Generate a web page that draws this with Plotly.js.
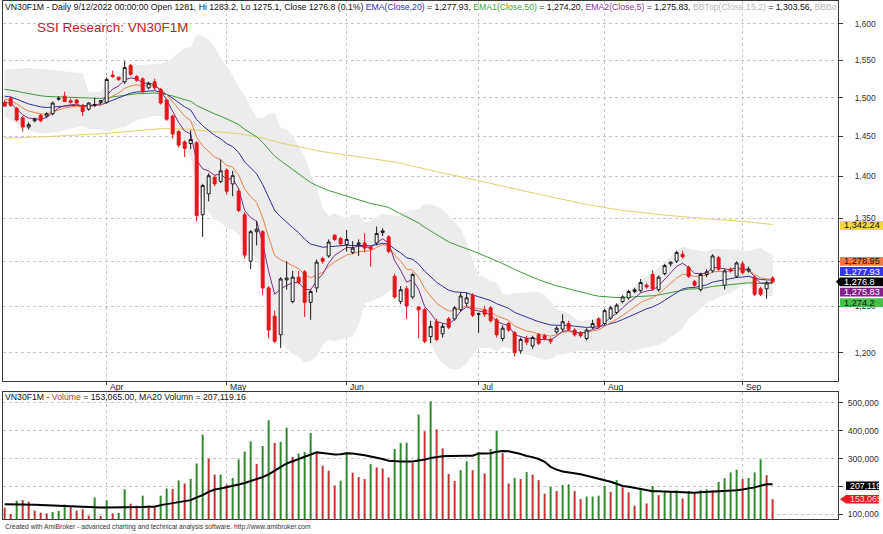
<!DOCTYPE html>
<html><head><meta charset="utf-8">
<script src="https://cdn.plot.ly/plotly-3.0.1.min.js"></script>
<style>html,body{margin:0;padding:0;background:#fff;}#chart{width:883px;height:534px;}</style>
</head><body><div id="chart"></div>
<script>
// ---------------- DATA ----------------
const openP = [1494,1499,1486,1474,1462,1470,1477,1476,1479,1498,
1502,1496,1497,1490,1485,1490,1494,1494,1530,1527,
1521,1543,1528,1525,1513,1521,1511,1497,1476,1456,
1443,1441,1442,1354,1379,1399,1394,1408,1391,1382,
1354,1300,1334,1334,1270,1239,1219,1279,1255,1282,
1288,1254,1270,1303,1306,1330,1326,1319,1310,1319,
1321,1316,1321,1333,1328,1283,1255,1269,1260,1249,
1246,1217,1233,1220,1236,1236,1246,1253,1262,1241,
1246,1248,1235,1215,1231,1221,1202,1215,1207,1219,
1218,1214,1222,1225,1231,1224,1221,1215,1227,1236,
1231,1237,1243,1255,1259,1266,1267,1273,1285,1268,
1286,1297,1300,1308,1293,1277,1268,1285,1289,1304,
1273,1291,1283,1297,1289,1282,1269,1269,1281];
const highP = [1497,1502,1488,1476,1468,1474,1479,1481,1495,1502,
1508,1499,1498,1492,1494,1500,1497,1527,1536,1528,
1549,1545,1530,1527,1521,1525,1513,1499,1478,1458,
1445,1458,1444,1391,1404,1402,1421,1410,1407,1386,
1357,1336,1347,1336,1272,1245,1282,1300,1289,1289,
1290,1268,1302,1305,1325,1331,1328,1336,1323,1325,
1332,1318,1340,1338,1330,1286,1272,1272,1287,1250,
1248,1234,1236,1231,1238,1250,1265,1265,1264,1243,
1250,1250,1237,1229,1233,1223,1216,1218,1218,1221,
1220,1216,1228,1241,1234,1226,1223,1226,1235,1238,
1247,1250,1253,1262,1268,1270,1280,1275,1290,1284,
1297,1299.5,1312,1312,1295,1279,1287,1291,1308,1306,
1291,1293,1300,1300,1294,1284,1271,1278,1283.2];
const lowP = [1488,1488,1469,1456,1459,1468,1468,1474,1477,1496,
1494,1492,1491,1476,1483,1488,1491,1492,1526,1522,
1518,1529,1521,1506,1511,1510,1491,1470,1447,1436,
1424,1434,1346,1328,1370,1388,1392,1378,1376,1357,
1303,1291,1318,1262,1215,1210,1205,1268,1253,1274,
1238,1235,1265,1297,1304,1323,1317,1311,1308,1306,
1310,1294,1318,1329,1309,1258,1252,1236,1258,1215,
1210,1210,1212,1216,1225,1234,1244,1250,1238,1221,
1238,1232,1216,1212,1222,1196,1199,1208,1204,1208,
1213,1209,1220,1222,1223,1217,1216,1213,1225,1226,
1229,1235,1241,1253,1257,1264,1265,1269,1267,1266,
1284,1294,1298,1303,1281,1271,1266,1282,1287,1289,
1268,1287,1281,1285,1287,1261,1261,1258,1275.1];
const closeP = [1489,1490,1471,1462,1465,1472,1470,1479,1493,1499,
1495,1494,1493,1482,1493,1491,1496,1524,1528,1524,
1540,1531,1523,1508,1519,1513,1493,1472,1453,1439,
1435,1446,1353,1389,1401,1391,1407,1382,1401,1359,
1307,1334,1337,1270,1224,1212,1280,1281,1282,1276,
1254,1266,1299,1300,1322,1325,1320,1325,1315,1321,
1315,1314,1332,1335,1311,1260,1268,1250,1285,1246,
1212,1228,1214,1228,1227,1248,1261,1259,1240,1241.5,
1241,1234,1219,1226,1224,1200,1214,1211,1216,1210,
1215,1212,1226,1233,1225,1219,1218,1224,1231,1228,
1245,1248,1251,1260,1266,1268,1276,1271,1269,1282,
1295,1299,1310,1305,1283,1273,1285,1288,1306,1291,
1289,1289,1298,1287,1291,1263,1263,1275.5,1276.8];
const volume = [123000,100000,148000,150000,144000,112000,105000,102000,107000,111000,
134000,125000,112000,117000,94000,160000,93000,150000,102000,104000,
189000,137000,130000,166000,131000,123000,166000,192000,190000,221000,
210000,227000,282000,386000,300000,242000,242000,206000,230000,296000,
325000,362000,280000,345000,438000,356000,360000,411000,306000,318000,
323000,392000,320000,274000,256000,203000,220000,322000,249000,233000,
226000,280000,268000,264000,232000,334000,356000,357000,284000,458000,
398000,506000,405000,337000,244000,219000,258000,290000,258000,323000,
246000,334000,399000,320000,210000,230000,226000,251000,242000,222000,
173000,198000,183000,204000,207000,183000,154000,163000,163000,166000,
201000,180000,222000,196000,178000,130000,186000,138000,201000,168000,
180000,183000,186000,156000,183000,174000,186000,189000,186000,216000,
229000,250000,260000,226000,230000,250000,297000,240000,153065];
// 1 = green volume bar, 0 = red volume bar
const volumeUp = [0,0,1,0,0,0,0,0,1,1, 1,0,0,0,0,1,0,1,0,1,
1,0,0,1,0,0,1,1,0,1, 0,1,1,1,0,0,1,0,1,1,
1,1,0,1,1,0,1,1,0,1, 1,1,0,0,0,0,1,1,0,0,
0,1,0,0,0,1,1,1,0,1, 0,1,0,0,0,0,1,1,0,1,
0,1,1,0,0,1,0,1,0,0, 0,1,0,1,1,0,0,1,1,1,
1,0,1,0,0,0,1,0,1,0, 1,1,1,0,1,0,1,1,0,1,
1,1,1,0,1,1,1,0,0];
const ma20Volume = [135000,135000,134000,134000,133000,133000,132000,131000,131000,130000,
129000,128000,126000,124000,123000,123000,123000,123000,123000,123000,
123000,124000,125000,125000,126000,126000,132000,136000,139000,142000,
146000,150000,160000,168000,180000,188000,192000,196000,201000,206000,
212000,219000,225000,233000,243000,256000,272000,282000,290000,298000,
304000,313000,322000,320000,318000,314000,315000,319000,318000,316000,
312000,307000,303000,298000,292000,290000,289000,289000,289000,293000,
296000,302000,306000,308000,309000,310000,310000,310000,310000,318000,
318000,319000,324000,327000,326000,322000,316000,309000,305000,298000,
288000,270000,260000,253000,250000,246000,243000,238000,233000,226000,
222000,216000,209000,201000,198000,194000,190000,184000,182000,182000,
181000,181000,179000,178000,177000,177000,178000,179000,180000,181000,
182000,184000,186000,188000,191000,196000,202000,207000,207119.16];
// Bollinger band values for the first 14 bars (no 15-bar window yet)
const bbTopEarly = [1537.6,1538.1,1538.5,1538.9,1539.4,1538.9,1538.1,1536.8,1535.9,1535.0,1534.1,1533.2,1532.8,1532.3];
const bbBotEarly = [1474.4,1471.0,1465.8,1461.6,1458.1,1455.2,1453.9,1453.9,1454.8,1456.0,1458.1,1459.8,1461.6,1463.3];
// EMA values at the first visible bar
const ema5Start = 1494, ema10Start = 1498, ema20Start = 1502, ema50Start = 1511, ema200Start = 1448;
// Last values shown in the right-hand labels / header
const lastEMA200 = 1342.24, lastEMA10 = 1278.95, lastEMA20 = 1277.93, lastEMA5 = 1275.83, lastEMA50 = 1274.2, lastBBTop = 1303.56;
const prevClose = 1275.5;
const monthTickIndex = [17,37,57,79,100,123];
const monthTickLabel = ['Apr','May','Jun','Jul','Aug','Sep'];
const priceTicks = [1200,1250,1300,1350,1400,1450,1500,1550,1600];
const priceTickText = ['1,200','1,250','','1,350','1,400','1,450','1,500','1,550','1,600'];
const volTicks = [100000,200000,300000,400000,500000];
const volTickText = ['100,000','','300,000','400,000','500,000'];

// ---------------- derived ----------------
const N = closeP.length;
const idx = closeP.map((_, i) => i);
function ema(src, period, seed) {
  const a = 2 / (period + 1); const out = [seed];
  for (let i = 1; i < src.length; i++) out.push(out[i-1] + a * (src[i] - out[i-1]));
  return out;
}
function bollinger(src, period, k) {
  const top = [], bot = [];
  for (let i = 0; i < src.length; i++) {
    if (i < period - 1) { top.push(bbTopEarly[i]); bot.push(bbBotEarly[i]); continue; }
    const w = src.slice(i - period + 1, i + 1);
    const m = w.reduce((s, v) => s + v, 0) / period;
    const sd = Math.sqrt(w.reduce((s, v) => s + (v - m) * (v - m), 0) / period);
    top.push(m + k * sd); bot.push(m - k * sd);
  }
  return {top, bot};
}
const e5 = ema(closeP, 5, ema5Start), e10 = ema(closeP, 10, ema10Start), e20 = ema(closeP, 20, ema20Start);
const e50 = ema(closeP, 50, ema50Start), e200 = ema(closeP, 200, ema200Start);
const bb = bollinger(closeP, 15, 2);

// ---------------- geometry ----------------
const FONT = 'Liberation Sans, Arial, sans-serif';
const PL = 3, PR = 838, PT = 1, PB = 519;
const PRICE_TOP = 1, PRICE_BOT = 381, VOL_TOP = 392, VOL_BOT = 519;
const logLo = Math.log10(1170.65), logHi = Math.log10(1632.4);
const vLo = 82000, vHi = 539600;
const px2x = p => (p - PL) / (PR - PL);
const py2y = p => (PB - p) / (PB - PT);
const pyPrice = v => PRICE_TOP + (logHi - Math.log10(v)) / (logHi - logLo) * (PRICE_BOT - PRICE_TOP);
const pyVol = v => VOL_TOP + (vHi - v) / (vHi - vLo) * (VOL_BOT - VOL_TOP);
const fmt = v => v.toLocaleString('en-US', {maximumFractionDigits: 2});

const C = {ema5:'#7b2d86', ema10:'#e8834d', ema20:'#30309a', ema50:'#3f9a3f', ema200:'#e3d06c'};

const traces = [
  {x: idx, y: bb.bot, mode:'lines', line:{width:0, color:'rgba(0,0,0,0)'}, hoverinfo:'skip', xaxis:'x', yaxis:'y'},
  {x: idx, y: bb.top, mode:'lines', line:{width:0, color:'rgba(0,0,0,0)'}, fill:'tonexty', fillcolor:'#ececec', hoverinfo:'skip', xaxis:'x', yaxis:'y'},
  {x: idx, y: e200, mode:'lines', line:{width:1, color:C.ema200}, hoverinfo:'skip'},
  {x: idx, y: e50, mode:'lines', line:{width:1, color:C.ema50}, hoverinfo:'skip'},
  {x: idx, y: e20, mode:'lines', line:{width:1, color:C.ema20}, hoverinfo:'skip'},
  {x: idx, y: e10, mode:'lines', line:{width:1, color:C.ema10}, hoverinfo:'skip'},
  {x: idx, y: e5, mode:'lines', line:{width:1, color:C.ema5}, hoverinfo:'skip'},
  {type:'candlestick', x: idx, open: openP, high: highP, low: lowP, close: closeP, xaxis:'x', yaxis:'y3',
   increasing:{line:{color:'#1a1a1a', width:1}, fillcolor:'#ffffff'},
   decreasing:{line:{color:'#e3161c', width:1}, fillcolor:'#e3161c'}, whiskerwidth:0, hoverinfo:'skip'},
  {type:'bar', x: idx, y: volume, xaxis:'x2', yaxis:'y2', width:0.33,
   marker:{color: volumeUp.map(u => u ? '#2f8a2f' : '#c23434'), line:{width:0}}, hoverinfo:'skip'},
  {x: idx, y: ma20Volume, xaxis:'x2', yaxis:'y2', mode:'lines', line:{width:2, color:'#000'}, hoverinfo:'skip'}
];

const gridCol = '#c8c8c8', lineCol = '#3a3a3a';
const xBase = {range:[-0.28, 138.9], type:'linear', showline:true, linecolor:lineCol, linewidth:1, mirror:true,
  tickvals: monthTickIndex, showticklabels:false, showgrid:true, gridcolor:gridCol, griddash:'dot', gridwidth:1,
  zeroline:false, fixedrange:true};
const layout = {
  width:883, height:534, margin:{l:PL, r:883-PR, t:PT, b:534-PB, pad:0},
  paper_bgcolor:'#fff', plot_bgcolor:'#fff', showlegend:false,
  font:{family:FONT, size:9, color:'#222'},
  xaxis: Object.assign({}, xBase, {domain:[0,1], anchor:'y', ticks:'outside', ticklen:3, tickcolor:lineCol, rangeslider:{visible:false}}),
  xaxis2: Object.assign({}, xBase, {domain:[0,1], anchor:'y2', ticks:''}),
  yaxis: {domain:[py2y(PRICE_BOT), 1], type:'log', range:[logLo, logHi], side:'right', anchor:'x',
    showline:true, linecolor:lineCol, mirror:true, ticks:'outside', ticklen:4, tickcolor:lineCol,
    tickvals: priceTicks, ticktext: priceTickText, tickfont:{size:8.4, color:'#333', family:FONT},
    ticklabelstandoff:10, showgrid:true, gridcolor:gridCol, griddash:'dot', zeroline:false, fixedrange:true},
  yaxis3: {overlaying:'y', type:'log', range:[logLo, logHi], anchor:'x', side:'right', visible:false,
    showgrid:false, zeroline:false, showline:false, showticklabels:false, fixedrange:true},
  yaxis2: {domain:[0, py2y(VOL_TOP)], range:[vLo, vHi], side:'right', anchor:'x2',
    showline:true, linecolor:lineCol, mirror:true, ticks:'outside', ticklen:4, tickcolor:lineCol,
    tickvals: volTicks, ticktext: volTickText, tickfont:{size:8.6, color:'#333', family:FONT},
    ticklabelstandoff:3, showgrid:true, gridcolor:gridCol, griddash:'dot', zeroline:false, fixedrange:true},
  shapes: [], annotations: []
};

// header texts
const last = N - 1;
const chg = ((closeP[last] / prevClose - 1) * 100).toFixed(1);
const hdr = `VN30F1M - Daily 9/12/2022 00:00:00 Open ${openP[last]}, Hi ${highP[last]}, Lo ${lowP[last]}, Close ${closeP[last]} (${chg}%) ` +
  `<span style="color:#3030b0">EMA(Close,20)</span> = ${fmt(lastEMA20)}, ` +
  `<span style="color:#45a845">EMA1(Close,50)</span> = ${lastEMA50.toLocaleString('en-US',{minimumFractionDigits:2})}, ` +
  `<span style="color:#8a3a96">EMA2(Close,5)</span> = ${fmt(lastEMA5)}, ` +
  `<span style="color:#b8b8b8">BBTop(Close,15,2)</span> = ${fmt(lastBBTop)}, <span style="color:#b8b8b8">BBBo</span>`;
const A = layout.annotations;
A.push({xref:'paper', yref:'paper', x:px2x(3), y:py2y(7), xanchor:'left', yanchor:'middle', showarrow:false,
  text: hdr, font:{size:8.7, color:'#111', family:FONT}});
A.push({xref:'paper', yref:'paper', x:px2x(35), y:py2y(27), xanchor:'left', yanchor:'middle', showarrow:false,
  text:'SSI Research: VN30F1M', font:{size:13.5, color:'#b5262b', family:FONT}});
A.push({xref:'paper', yref:'paper', x:px2x(3), y:py2y(397), xanchor:'left', yanchor:'middle', showarrow:false,
  text:`VN30F1M - <span style="color:#c0392b">Volume</span> = ${volume[last].toLocaleString('en-US',{minimumFractionDigits:2})}, MA20 Volumn = ${ma20Volume[last].toLocaleString('en-US',{minimumFractionDigits:2})}`,
  font:{size:8.7, color:'#111', family:FONT}});
A.push({xref:'paper', yref:'paper', x:px2x(3), y:py2y(526.5), xanchor:'left', yanchor:'middle', showarrow:false,
  text:'Created with AmiBroker - advanced charting and technical analysis software. http://www.amibroker.com',
  font:{size:6.7, color:'#333', family:FONT}});
monthTickIndex.forEach((m, k) => A.push({xref:'x', yref:'paper', x:m, y:py2y(386.5), xanchor:'left', yanchor:'middle',
  xshift:1, showarrow:false, text:monthTickLabel[k], font:{size:8.6, color:'#222', family:FONT}}));

// right-hand value labels
function valueLabel(cy, x0, x1, h, bg, fg, txt, arrow, fs) {
  const yT = py2y(cy - h/2), yB = py2y(cy + h/2), yC = py2y(cy);
  let path = `M ${px2x(x0)},${yT} L ${px2x(x1)},${yT} L ${px2x(x1)},${yB} L ${px2x(x0)},${yB}`;
  path += arrow ? ` L ${px2x(x0 - arrow)},${yC} Z` : ' Z';
  layout.shapes.push({type:'path', xref:'paper', yref:'paper', path, fillcolor:bg, line:{width:0}, layer:'above'});
  A.push({xref:'paper', yref:'paper', x:px2x(x0 + 2), y:yC, xanchor:'left', yanchor:'middle', showarrow:false,
    text:txt, font:{size:fs, color:fg, family:FONT}});
}
const cyClose = pyPrice(closeP[last]);
valueLabel(pyPrice(lastEMA200) + 0.8, 840, 884, 8.8, '#f1d64c', '#111', fmt(lastEMA200), 0, 9.2);
valueLabel(cyClose - 20.5, 840, 884, 8.8, '#f07a45', '#111', fmt(lastEMA10), 0, 9.2);
valueLabel(cyClose - 10.3, 840, 884, 8.8, '#3434ee', '#fff', fmt(lastEMA20), 0, 9.2);
valueLabel(cyClose, 840, 884, 8.8, '#000', '#fff', fmt(closeP[last]), 4, 9.2);
valueLabel(cyClose + 10.3, 840, 884, 8.8, '#84208a', '#fff', fmt(lastEMA5), 0, 9.2);
valueLabel(cyClose + 20.8, 840, 884, 8.8, '#46c046', '#111', fmt(lastEMA50), 0, 9.2);
valueLabel(pyVol(ma20Volume[last]) + 1.5, 846, 879, 8.6, '#000', '#fff', Math.round(ma20Volume[last]).toLocaleString('en-US'), 0, 8.8);
valueLabel(pyVol(volume[last]), 846, 879, 8.6, '#e8191f', '#ffd8d8', volume[last].toLocaleString('en-US'), 6, 8.8);

Plotly.newPlot('chart', traces, layout, {staticPlot:true, displayModeBar:false});
</script>
</body></html>
